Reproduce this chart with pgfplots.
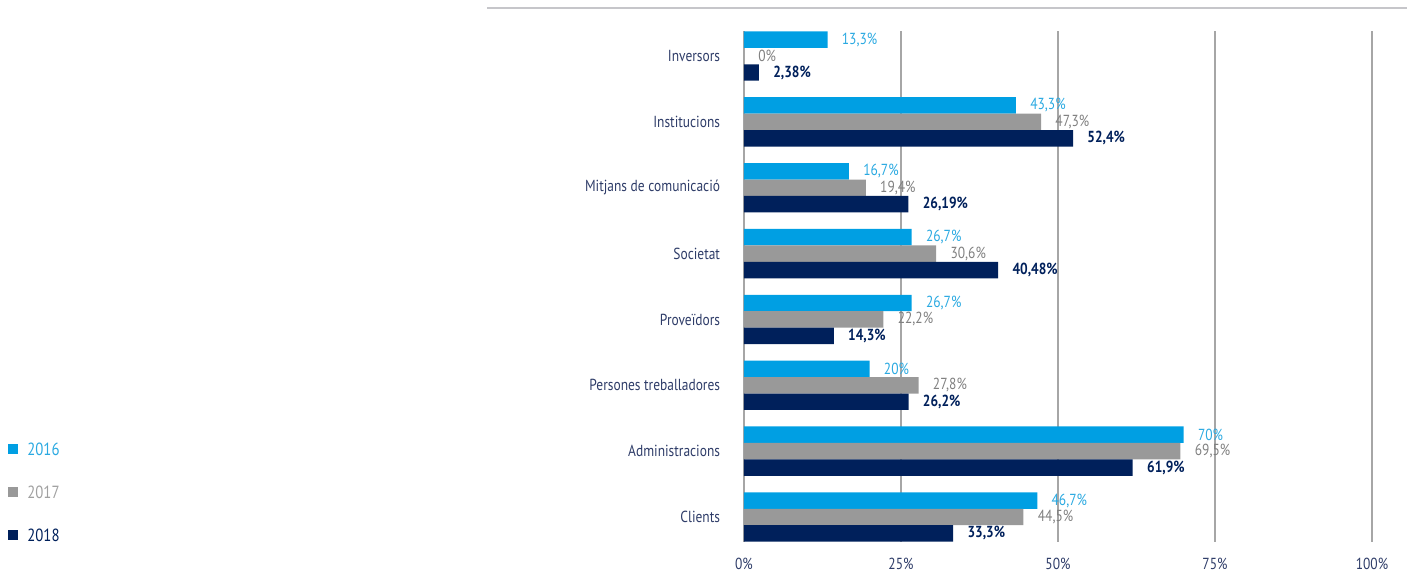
\documentclass[border=0pt]{standalone}
\usepackage{pgfplots}
\pgfplotsset{compat=1.18}
\usepackage{fontspec}
\setmainfont{PT Sans}[FakeStretch=0.84]
\definecolor{c16}{HTML}{009FE3}
\definecolor{c17}{HTML}{999999}
\definecolor{c18}{HTML}{00205B}
\definecolor{l16}{HTML}{2AA9E1}
\definecolor{l17}{HTML}{808080}
\definecolor{g17}{HTML}{A0A0A0}
\definecolor{txt}{HTML}{2E3C68}
\definecolor{grd}{HTML}{A6A6A6}
\definecolor{topl}{HTML}{C6C6CA}
\newcommand{\lbl}{\fontsize{8}{9.5}\selectfont}

\begin{document}
\begin{tikzpicture}
\begin{axis}[
  scale only axis,
  width=314pt, height=255.5pt,
  xbar, bar width=0.25,
  xmin=0, xmax=100,
  ymin=-0.38, ymax=7.38,
  y dir=reverse,
  clip=false,
  axis line style={draw=none},
  tick style={draw=none},
  xmajorgrids,
  grid style={grd, line width=0.6pt},
  xtick={0,25,50,75,100},
  xticklabels={0\%,25\%,50\%,75\%,100\%},
  ytick={0,...,7},
  yticklabels={Inversors, Institucions, Mitjans de comunicació, Societat,
    Proveïdors, Persones treballadores, Administracions, Clients},
  ticklabel style={font=\lbl, text=txt},
  yticklabel style={inner sep=0pt, xshift=-7.5pt},
  xticklabel style={inner sep=0pt, yshift=-7.6pt},
  point meta=explicit symbolic,
  nodes near coords,
  nodes near coords style={anchor=west, inner sep=0pt, xshift=7pt, font=\lbl},
  legend cell align=left,
  legend image code/.code={\fill[#1] (0pt,-2.5pt) rectangle (5pt,2.5pt);},
  legend style={at={(axis description cs:-1.172,0.194)}, anchor=north west,
    draw=none, fill=none, inner sep=0pt, font=\fontsize{8.8}{10}\selectfont,
    nodes={inner sep=0pt, text height=6pt, text depth=0pt},
    /tikz/row sep=15.5pt, /tikz/column sep=4.5pt},
]
\addplot[fill=c16, draw=none, bar shift=-0.25,
  every node near coord/.append style={text=l16}] coordinates {
  (13.3,0) [{13,3\%}]
  (43.3,1) [{43,3\%}]
  (16.7,2) [{16,7\%}]
  (26.7,3) [{26,7\%}]
  (26.7,4) [{26,7\%}]
  (20,5)   [{20\%}]
  (70,6)   [{70\%}]
  (46.7,7) [{46,7\%}]
};
\addplot[fill=c17, draw=none, bar shift=0,
  every node near coord/.append style={text=l17}] coordinates {
  (0,0)    [{0\%}]
  (47.3,1) [{47,3\%}]
  (19.4,2) [{19,4\%}]
  (30.6,3) [{30,6\%}]
  (22.2,4) [{22,2\%}]
  (27.8,5) [{27,8\%}]
  (69.5,6) [{69,5\%}]
  (44.5,7) [{44,5\%}]
};
\addplot[fill=c18, draw=none, bar shift=0.25,
  every node near coord/.append style={text=c18, font=\lbl\bfseries}] coordinates {
  (2.38,0)  [{2,38\%}]
  (52.4,1)  [{52,4\%}]
  (26.19,2) [{26,19\%}]
  (40.48,3) [{40,48\%}]
  (14.3,4)  [{14,3\%}]
  (26.2,5)  [{26,2\%}]
  (61.9,6)  [{61,9\%}]
  (33.3,7)  [{33,3\%}]
};
\legend{\textcolor{l16}{2016},\textcolor{g17}{2017},\textcolor{c18}{2018}}
\draw[topl, line width=1pt] (axis description cs:-0.409,1.045) -- (axis description cs:1.0557,1.045);
\coordinate (bbl) at (axis description cs:-1.1847,-0.05675);
\coordinate (btr) at (axis description cs:1.05573,1.0607);
\end{axis}
\pgfresetboundingbox
\path[use as bounding box] (bbl) rectangle (btr);
\end{tikzpicture}
\end{document}
